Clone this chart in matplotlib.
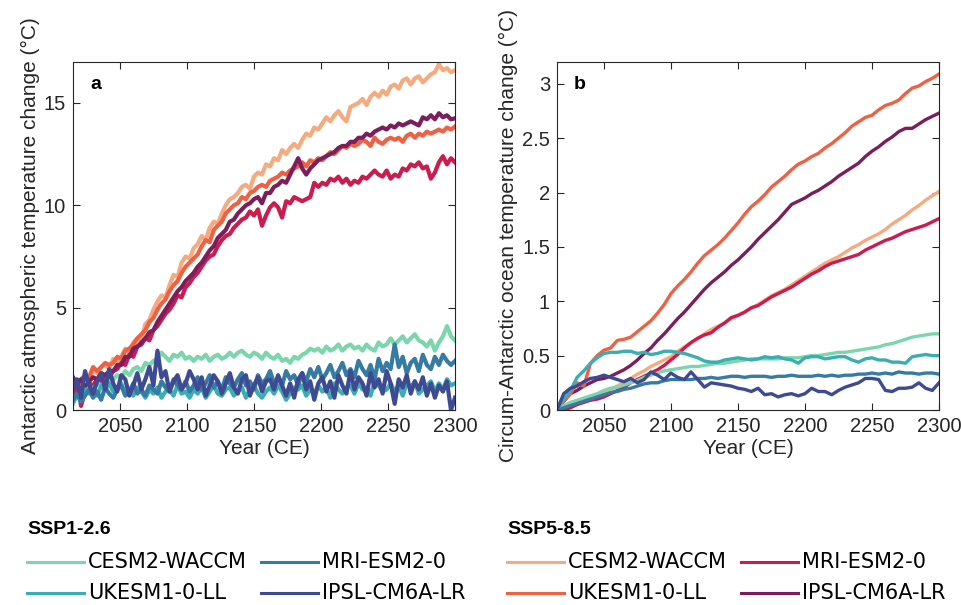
import numpy as np
import matplotlib
matplotlib.use('Agg')
import matplotlib.pyplot as plt
from matplotlib.lines import Line2D

plt.rcParams['font.family'] = ['Liberation Sans', 'DejaVu Sans']

# ---- data -------------------------------------------------------------
models = ['CESM2-WACCM', 'MRI-ESM2-0', 'UKESM1-0-LL', 'IPSL-CM6A-LR']

colors_126 = {'CESM2-WACCM': '#7bd6ad', 'MRI-ESM2-0': '#357ba3',
              'UKESM1-0-LL': '#3aaeb0', 'IPSL-CM6A-LR': '#3e4a92'}
colors_585 = {'CESM2-WACCM': '#f6aa80', 'MRI-ESM2-0': '#cc1b4f',
              'UKESM1-0-LL': '#f06043', 'IPSL-CM6A-LR': '#7d1e5c'}

# panel a: atmospheric warming, every 3 years 2015-2300
years_a = np.arange(2015, 2301, 3)

atm_585_cesm = [1.1, 1.4, 1.3, 1.6, 1.5, 1.9, 1.8, 2.1, 2.2, 2.0,
                2.5, 2.3, 2.6, 3.0, 2.8, 3.3, 3.5, 3.4, 4.2, 4.4,
                4.9, 5.3, 5.6, 5.5, 6.1, 6.6, 6.5, 7.2, 7.5, 7.4,
                7.9, 8.1, 8.5, 8.3, 8.9, 9.2, 9.1, 9.6, 10.0, 10.3,
                10.4, 10.6, 10.9, 11.0, 10.8, 11.4, 11.6, 11.5, 12.0, 11.9,
                12.3, 12.2, 12.7, 12.5, 12.8, 13.0, 12.8, 13.2, 13.5, 13.4,
                13.8, 13.7, 14.0, 14.3, 14.1, 14.4, 14.6, 14.3, 14.1, 14.8,
                14.9, 15.0, 15.2, 14.9, 15.3, 15.5, 15.3, 15.6, 15.4, 15.8,
                15.9, 15.7, 16.1, 16.2, 15.9, 16.2, 16.3, 16.0, 16.2, 16.4,
                16.5, 16.9, 16.6, 16.7, 16.5, 16.6]
atm_585_ukesm = [1.3, 1.1, 1.5, 1.7, 1.6, 2.1, 1.9, 2.1, 2.3, 2.2,
                 2.3, 2.6, 2.5, 2.9, 3.0, 3.2, 3.5, 3.7, 3.9, 4.3,
                 4.5, 4.9, 5.2, 5.4, 5.8, 6.1, 6.3, 6.7, 7.0, 7.2,
                 7.4, 7.6, 8.0, 8.3, 8.2, 8.8, 9.0, 9.2, 9.6, 9.8,
                 10.0, 10.1, 10.4, 10.3, 10.6, 10.7, 10.9, 11.0, 10.9, 11.2,
                 11.3, 11.4, 11.6, 11.5, 11.7, 11.8, 11.9, 12.1, 11.9, 12.2,
                 12.1, 12.3, 12.2, 12.4, 12.6, 12.5, 12.7, 12.9, 12.8, 13.0,
                 12.9, 13.0, 13.2, 13.1, 12.9, 13.3, 13.1, 13.0, 13.2, 13.3,
                 13.2, 13.3, 13.1, 13.4, 13.5, 13.3, 13.5, 13.4, 13.6, 13.5,
                 13.6, 13.7, 13.6, 13.8, 13.7, 13.85]
atm_585_mri = [0.4, 1.4, 0.2, 0.9, 1.3, 1.2, 1.5, 1.4, 1.7, 1.6,
               1.9, 2.0, 2.3, 2.2, 2.7, 2.6, 3.1, 3.2, 3.5, 3.4,
               3.9, 4.1, 4.4, 4.7, 4.9, 5.2, 5.6, 5.5, 6.0, 6.2,
               6.5, 6.7, 7.0, 7.3, 7.5, 7.6, 8.0, 8.3, 8.5, 8.6,
               8.9, 9.1, 9.3, 9.4, 9.7, 9.5, 9.8, 9.0, 9.5, 9.9,
               10.1, 9.9, 9.4, 10.2, 10.1, 10.4, 10.3, 10.2, 10.3, 10.4,
               11.1, 10.9, 11.1, 11.0, 11.3, 11.2, 11.4, 11.1, 11.3, 11.0,
               11.2, 11.1, 11.4, 11.3, 11.5, 11.7, 11.5, 11.4, 11.7, 11.3,
               11.5, 11.4, 11.8, 11.7, 12.0, 11.9, 12.1, 11.8, 11.9, 11.3,
               11.6, 12.1, 12.4, 12.0, 12.3, 12.1]
atm_585_ipsl = [1.6, 1.3, 1.5, 1.1, 1.4, 1.6, 1.5, 1.8, 1.7, 1.9,
                1.9, 2.2, 2.2, 2.6, 2.6, 3.0, 3.1, 3.3, 3.5, 3.8,
                3.9, 4.3, 4.6, 4.9, 5.2, 5.5, 5.8, 6.0, 6.3, 6.5,
                6.7, 7.0, 7.2, 7.5, 7.8, 8.0, 8.4, 8.6, 8.8, 9.2,
                9.3, 9.6, 9.8, 10.0, 10.1, 10.3, 10.4, 10.1, 10.6, 10.6,
                10.9, 11.0, 11.2, 11.1, 11.5, 11.9, 12.3, 11.8, 11.5, 11.8,
                12.0, 12.2, 12.3, 12.4, 12.5, 12.6, 12.8, 12.9, 12.9, 13.1,
                13.1, 13.3, 13.3, 13.5, 13.4, 13.6, 13.7, 13.8, 13.7, 13.9,
                13.8, 14.0, 13.9, 14.0, 14.1, 14.0, 13.9, 14.3, 14.2, 14.4,
                14.2, 14.5, 14.3, 14.4, 14.2, 14.25]

atm_126_cesm = [0.3, 0.7, 0.9, 0.8, 1.1, 1.0, 1.3, 1.2, 1.4, 1.3,
                1.5, 1.7, 1.6, 1.9, 1.7, 2.0, 2.1, 1.9, 2.3, 2.2,
                2.4, 2.5, 2.8, 2.6, 2.4, 2.7, 2.6, 2.8, 2.5, 2.6,
                2.4, 2.6, 2.5, 2.7, 2.4, 2.6, 2.7, 2.5, 2.6, 2.8,
                2.6, 2.8, 2.9, 2.7, 2.6, 2.8, 2.7, 2.5, 2.8, 2.6,
                2.5, 2.7, 2.4, 2.5, 2.3, 2.6, 2.5, 2.7, 2.8, 3.0,
                2.9, 3.0, 2.8, 3.1, 2.9, 3.0, 3.2, 2.9, 3.1, 3.2,
                3.0, 3.1, 2.9, 3.2, 3.0, 2.9, 3.3, 3.1, 3.2, 3.5,
                3.2, 3.4, 3.6, 3.3, 3.5, 3.7, 3.4, 3.3, 3.1, 3.4,
                2.9, 3.3, 3.6, 4.1, 3.6, 3.4]
atm_126_mri = [0.5, 0.8, 0.4, 0.7, 1.0, 0.6, 0.9, 0.5, 1.1, 0.8,
               0.6, 1.0, 1.2, 0.7, 0.9, 1.3, 0.8, 1.0, 0.7, 1.2,
               1.0, 0.8, 1.4, 1.1, 0.9, 1.5, 1.2, 1.0, 1.4, 0.9,
               1.2, 1.6, 1.0, 1.3, 1.7, 1.1, 1.4, 1.0, 1.6, 1.3,
               1.1, 1.5, 1.8, 1.2, 1.4, 1.0, 1.7, 1.3, 1.5, 1.9,
               1.3, 1.6, 1.2, 1.9, 1.5, 1.7, 1.2, 1.8, 1.4, 2.0,
               1.6, 2.1, 1.5, 1.8, 2.2, 1.6, 1.9, 2.3, 1.7, 2.0,
               1.6, 2.4, 2.0, 1.7, 2.2, 1.5, 2.5, 1.9, 2.3, 2.0,
               3.2, 2.1, 2.6, 1.8, 2.3, 2.5, 1.9, 2.7, 2.2, 2.0,
               2.6, 2.2, 2.7, 2.4, 2.2, 2.4]
atm_126_ukesm = [0.4, 0.7, 0.6, 1.0, 0.8, 1.1, 0.7, 1.2, 1.0, 1.3,
                 0.9, 1.1, 1.3, 0.8, 1.0, 0.7, 1.1, 0.9, 0.6, 1.0,
                 0.8, 1.1, 0.6, 0.9, 1.0, 0.7, 1.2, 0.8, 0.9, 0.6,
                 1.0, 0.8, 1.1, 0.6, 0.9, 1.2, 0.8, 0.7, 1.0, 1.1,
                 0.7, 0.9, 1.1, 0.6, 1.0, 1.2, 0.8, 0.6, 0.9, 1.1,
                 0.8, 1.2, 0.9, 0.5, 0.8, 1.1, 1.0, 1.2, 0.7, 1.0,
                 0.8, 1.2, 0.9, 1.1, 0.6, 1.3, 1.0, 0.8, 1.1, 1.2,
                 0.8, 1.3, 1.0, 1.1, 0.7, 1.4, 1.2, 0.9, 1.0, 1.3,
                 0.9, 1.2, 0.7, 1.3, 1.1, 1.4, 0.8, 1.0, 1.2, 1.4,
                 0.9, 1.3, 1.0, 1.5, 1.2, 1.3]
atm_126_ipsl = [1.0, 1.5, 0.6, 1.9, 1.2, 0.8, 1.4, 1.8, 1.0, 2.0,
                1.3, 0.9, 1.7, 1.5, 0.7, 1.2, 1.8, 1.0, 1.5, 2.1,
                1.2, 2.9, 1.6, 1.9, 0.9, 1.4, 1.7, 1.0, 1.3, 1.9,
                1.5, 1.0, 1.6, 0.7, 1.2, 1.7, 1.4, 0.8, 1.3, 1.8,
                1.1, 0.8, 1.5, 1.7, 0.7, 1.2, 1.6, 0.9, 1.4, 1.5,
                1.0, 1.7, 1.2, 0.7, 1.3, 0.6, 1.5, 1.8, 1.0, 1.4,
                0.5, 1.3, 1.6, 0.9, 1.4, 0.6, 1.7, 1.2, 0.8, 1.9,
                1.0, 1.6, 1.3, 0.7, 1.8, 1.1, 1.5, 0.8, 1.9, 1.3,
                0.3, 1.5, 1.1, 1.7, 0.8, 1.4, 1.0, 1.6, 0.7, 1.3,
                0.6, 1.2, 0.9, 1.4, 0.0, 0.6]

# panel b: ocean warming, every 5 years 2015-2300
years_b = np.arange(2015, 2301, 5)

ocn_585_cesm = [0.0, 0.03, 0.06, 0.08, 0.1, 0.12, 0.14, 0.16, 0.19, 0.22,
                0.26, 0.29, 0.33, 0.36, 0.4, 0.43, 0.46, 0.49, 0.54, 0.58,
                0.62, 0.66, 0.7, 0.74, 0.77, 0.8, 0.84, 0.87, 0.9, 0.94,
                0.97, 1.01, 1.05, 1.08, 1.11, 1.15, 1.19, 1.23, 1.27, 1.31,
                1.35, 1.38, 1.41, 1.45, 1.49, 1.52, 1.56, 1.59, 1.62, 1.66,
                1.71, 1.75, 1.79, 1.84, 1.88, 1.93, 1.97, 2.01]
ocn_585_mri = [0.0, 0.0, 0.02, 0.05, 0.07, 0.09, 0.1, 0.12, 0.15, 0.18,
               0.21, 0.25, 0.28, 0.31, 0.34, 0.37, 0.41, 0.46, 0.51, 0.57,
               0.62, 0.66, 0.69, 0.71, 0.76, 0.8, 0.85, 0.87, 0.9, 0.94,
               0.96, 1.0, 1.04, 1.07, 1.1, 1.13, 1.17, 1.21, 1.25, 1.28,
               1.32, 1.35, 1.37, 1.39, 1.41, 1.43, 1.47, 1.5, 1.53, 1.56,
               1.58, 1.61, 1.64, 1.66, 1.68, 1.7, 1.73, 1.76]
ocn_585_ukesm = [0.0, 0.08, 0.15, 0.25, 0.22, 0.43, 0.5, 0.55, 0.57, 0.64,
                 0.65, 0.67, 0.72, 0.77, 0.82, 0.89, 0.97, 1.07, 1.14, 1.2,
                 1.27, 1.35, 1.42, 1.47, 1.52, 1.58, 1.65, 1.72, 1.8, 1.87,
                 1.92, 1.98, 2.05, 2.1, 2.15, 2.21, 2.26, 2.29, 2.33, 2.36,
                 2.41, 2.45, 2.5, 2.55, 2.61, 2.65, 2.69, 2.71, 2.76, 2.8,
                 2.82, 2.85, 2.91, 2.96, 2.98, 3.02, 3.05, 3.09]
ocn_585_ipsl = [0.0, 0.08, 0.15, 0.18, 0.22, 0.25, 0.28, 0.29, 0.31, 0.34,
                0.37, 0.41, 0.46, 0.52, 0.57, 0.64, 0.7, 0.77, 0.84, 0.9,
                0.97, 1.04, 1.11, 1.17, 1.22, 1.27, 1.33, 1.38, 1.44, 1.5,
                1.57, 1.63, 1.69, 1.75, 1.82, 1.89, 1.92, 1.95, 1.99, 2.02,
                2.06, 2.1, 2.15, 2.19, 2.23, 2.27, 2.33, 2.38, 2.42, 2.47,
                2.51, 2.56, 2.59, 2.59, 2.63, 2.67, 2.7, 2.73]

ocn_126_cesm = [0.0, 0.04, 0.07, 0.09, 0.11, 0.13, 0.15, 0.18, 0.2, 0.21,
                0.23, 0.25, 0.27, 0.3, 0.32, 0.34, 0.36, 0.37, 0.38, 0.39,
                0.4, 0.4, 0.41, 0.42, 0.43, 0.43, 0.44, 0.45, 0.46, 0.47,
                0.47, 0.47, 0.47, 0.47, 0.48, 0.48, 0.48, 0.49, 0.5, 0.5,
                0.51, 0.52, 0.53, 0.53, 0.54, 0.55, 0.56, 0.57, 0.58, 0.6,
                0.61, 0.63, 0.65, 0.67, 0.68, 0.69, 0.7, 0.7]
ocn_126_mri = [0.0, 0.02, 0.04, 0.06, 0.08, 0.1, 0.12, 0.14, 0.16, 0.17,
               0.19, 0.2, 0.22, 0.24, 0.25, 0.25, 0.27, 0.28, 0.28, 0.28,
               0.28, 0.29, 0.29, 0.3, 0.29, 0.3, 0.31, 0.31, 0.3, 0.31,
               0.31, 0.31, 0.3, 0.31, 0.31, 0.32, 0.31, 0.31, 0.31, 0.32,
               0.31, 0.32, 0.31, 0.32, 0.32, 0.33, 0.33, 0.34, 0.33, 0.34,
               0.33, 0.35, 0.34, 0.34, 0.33, 0.34, 0.34, 0.33]
ocn_126_ukesm = [0.0, 0.1, 0.18, 0.3, 0.36, 0.43, 0.48, 0.52, 0.53, 0.53,
                 0.54, 0.54, 0.52, 0.53, 0.51, 0.52, 0.54, 0.54, 0.53, 0.52,
                 0.5, 0.48, 0.45, 0.44, 0.44, 0.46, 0.47, 0.48, 0.47, 0.46,
                 0.47, 0.49, 0.48, 0.49, 0.47, 0.46, 0.43, 0.48, 0.49, 0.49,
                 0.47, 0.48, 0.49, 0.49, 0.46, 0.44, 0.47, 0.48, 0.46, 0.46,
                 0.44, 0.44, 0.43, 0.49, 0.5, 0.51, 0.5, 0.5]
ocn_126_ipsl = [0.0, 0.15, 0.2, 0.22, 0.26, 0.29, 0.3, 0.32, 0.3, 0.28,
                0.26, 0.29, 0.25, 0.28, 0.35, 0.32, 0.28, 0.34, 0.3, 0.28,
                0.35, 0.28, 0.21, 0.25, 0.24, 0.23, 0.22, 0.2, 0.19, 0.17,
                0.2, 0.14, 0.15, 0.12, 0.14, 0.15, 0.13, 0.15, 0.2, 0.17,
                0.17, 0.14, 0.18, 0.21, 0.23, 0.25, 0.29, 0.29, 0.28, 0.18,
                0.17, 0.2, 0.2, 0.21, 0.25, 0.2, 0.18, 0.25]

atm_585 = {'CESM2-WACCM': atm_585_cesm, 'UKESM1-0-LL': atm_585_ukesm,
           'MRI-ESM2-0': atm_585_mri, 'IPSL-CM6A-LR': atm_585_ipsl}
atm_126 = {'CESM2-WACCM': atm_126_cesm, 'UKESM1-0-LL': atm_126_ukesm,
           'MRI-ESM2-0': atm_126_mri, 'IPSL-CM6A-LR': atm_126_ipsl}
ocn_585 = {'CESM2-WACCM': ocn_585_cesm, 'MRI-ESM2-0': ocn_585_mri,
           'IPSL-CM6A-LR': ocn_585_ipsl, 'UKESM1-0-LL': ocn_585_ukesm}
ocn_126 = {'CESM2-WACCM': ocn_126_cesm, 'MRI-ESM2-0': ocn_126_mri,
           'UKESM1-0-LL': ocn_126_ukesm, 'IPSL-CM6A-LR': ocn_126_ipsl}

# ---- figure -----------------------------------------------------------
W, H = 962, 605
fig = plt.figure(figsize=(W / 100, H / 100), dpi=100)
fs = 14.5
dark = '#262626'


def fx(px):
    return px / W


def fy(py):
    return 1 - py / H


def style_axes(ax, ylim, yticks, ytl, label, letter):
    ax.set_xlim(2015, 2300)
    ax.set_ylim(*ylim)
    ax.set_xticks([2050, 2100, 2150, 2200, 2250, 2300])
    ax.set_yticks(yticks)
    ax.set_yticklabels(ytl)
    ax.tick_params(direction='in', top=True, right=True, length=5, width=0.8,
                   labelsize=fs, colors=dark, pad=5)
    for s in ax.spines.values():
        s.set_color(dark)
        s.set_linewidth(0.8)
    ax.set_xlabel('Year (CE)', fontsize=15, color=dark, labelpad=2)
    ax.set_ylabel(label, fontsize=15, color=dark, labelpad=3)
    ax.text(0.045, 0.935, letter, transform=ax.transAxes, fontsize=14,
            fontweight='bold', va='center', ha='left', color='black')


axa = fig.add_axes([fx(73), fy(410), fx(455) - fx(73), fy(62) - fy(410)])
for m, vals in atm_585.items():
    axa.plot(years_a, vals, color=colors_585[m], lw=3.0, solid_joinstyle='round')
for m, vals in atm_126.items():
    axa.plot(years_a, vals, color=colors_126[m], lw=3.0, solid_joinstyle='round')
style_axes(axa, (0, 17), [0, 5, 10, 15], ['0', '5', '10', '15'],
           'Antarctic atmospheric temperature change (°C)', 'a')

axb = fig.add_axes([fx(557), fy(410), fx(939) - fx(557), fy(62) - fy(410)])
for m, vals in ocn_585.items():
    axb.plot(years_b, vals, color=colors_585[m], lw=2.4, solid_joinstyle='round')
for m, vals in ocn_126.items():
    axb.plot(years_b, vals, color=colors_126[m], lw=2.4, solid_joinstyle='round')
style_axes(axb, (0, 3.2), [0, 0.5, 1, 1.5, 2, 2.5, 3],
           ['0', '0.5', '1', '1.5', '2', '2.5', '3'],
           'Circum-Antarctic ocean temperature change (°C)', 'b')

# ---- legends ----------------------------------------------------------
def legend_block(x0, title, cmap):
    fig.text(fx(x0), fy(529), title, fontsize=14, fontweight='bold',
             ha='left', va='center', color='black')
    slots = [('CESM2-WACCM', 0, 562), ('MRI-ESM2-0', 234, 562),
             ('UKESM1-0-LL', 0, 593), ('IPSL-CM6A-LR', 234, 593)]
    for m, dx, py in slots:
        fig.add_artist(Line2D([fx(x0 + dx), fx(x0 + dx + 57)], [fy(py), fy(py)],
                              color=cmap[m], lw=2.2))
        fig.text(fx(x0 + dx + 61), fy(py), m, fontsize=15, ha='left',
                 va='center', color='black', family='DejaVu Sans')


legend_block(27, 'SSP1-2.6', colors_126)
legend_block(507, 'SSP5-8.5', colors_585)

fig.savefig('out.png', dpi=100)
